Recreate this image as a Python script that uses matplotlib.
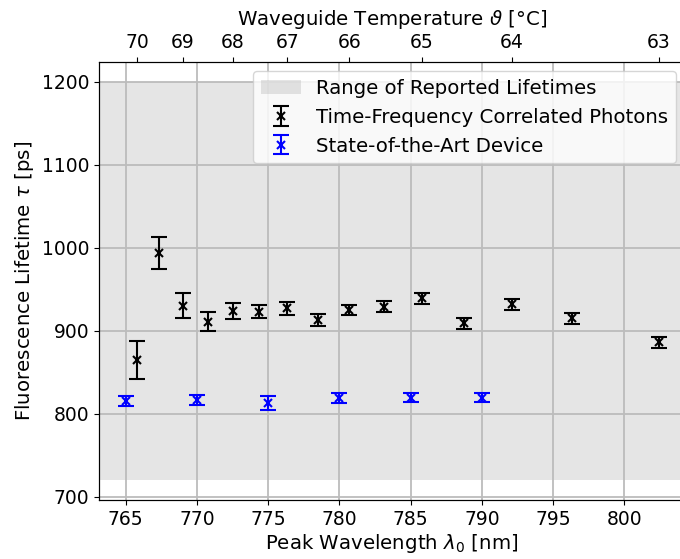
import matplotlib
matplotlib.use("Agg")
import matplotlib.pyplot as plt
import numpy as np

# Time-frequency correlated photons (black)
temps_tf = [70, 69.5, 69, 68.5, 68, 67.5, 67, 66.5, 66, 65.5, 65, 64.5, 64, 63.5, 63]
wl_tf = [765.8, 767.35, 769.0, 770.75, 772.5, 774.35, 776.35, 778.5, 780.7,
         783.15, 785.8, 788.75, 792.1, 796.35, 802.4]
tau_tf = [865, 994, 930, 911, 924, 923, 927, 913, 925, 929, 939, 909, 932, 915, 886]
err_tf = [23, 19, 15, 11.5, 9.5, 8, 7.5, 7, 6.5, 6.5, 7, 6.5, 6.5, 6.5, 6.5]

# state-of-the-art device (blue)
wl_sota = [765, 770, 775, 780, 785, 790]
tau_sota = [815, 816.5, 813.5, 818.5, 819.5, 819.5]
err_sota = [6, 6.5, 8.5, 6, 5.5, 5.5]

# reported lifetime range
range_lo, range_hi = 720, 1200

# top axis: temperature ticks at the integer-temperature wavelengths
top_temps = [70, 69, 68, 67, 66, 65, 64, 63]
top_wl = [765.8, 769.0, 772.5, 776.35, 780.7, 785.8, 792.1, 802.4]

plt.rcParams['font.size'] = 13.5

fig = plt.figure(figsize=(6.8, 5.59), dpi=100)
ax = fig.add_axes([0.1456, 0.1055, 0.862, 0.7835])

ax.axhspan(range_lo, range_hi, color='gray', alpha=0.2, lw=0,
           label='Range of Reported Lifetimes')
ax.errorbar(wl_tf, tau_tf, yerr=err_tf, fmt='x', color='k', ms=6, mew=1.5,
            capsize=5.5, elinewidth=1.5, capthick=1.5,
            label='Time-Frequency Correlated Photons')
ax.errorbar(wl_sota, tau_sota, yerr=err_sota, fmt='x', color='b', ms=6, mew=1.5,
            capsize=5.5, elinewidth=1.5, capthick=1.5,
            label='State-of-the-Art Device')

ax.grid(True, color='#bcbcbc', lw=1.3)
ax.set_xticks(np.arange(765, 801, 5))
ax.set_yticks(np.arange(700, 1201, 100))
ax.set_xlabel(r'Peak Wavelength $\lambda_0$ [nm]', fontsize=14.2, labelpad=2)
ax.set_ylabel(r'Fluorescence Lifetime $\tau$ [ps]', fontsize=14.2)
ax.legend(loc='upper right', fontsize=14.2, borderaxespad=0.45)

ax2 = ax.twiny()
ax2.set_xlim(ax.get_xlim())
ax2.set_xticks(top_wl)
ax2.set_xticklabels([str(t) for t in top_temps])
ax2.set_xlabel(r'Waveguide Temperature $\vartheta$ [°C]', fontsize=14.2, labelpad=6)

fig.savefig('out.png', dpi=100)
